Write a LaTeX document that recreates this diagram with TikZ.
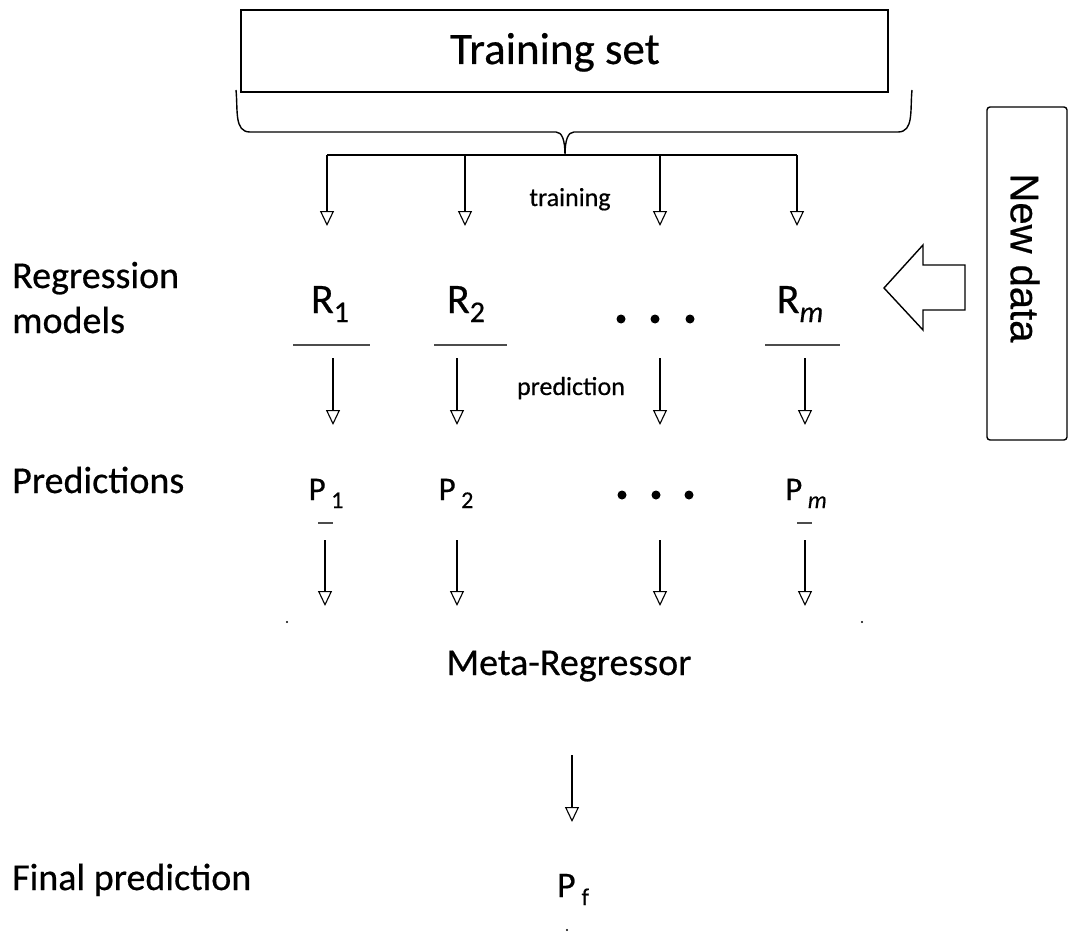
\documentclass[tikz,border=0pt]{standalone}
\usepackage{fontspec}
\setmainfont{Carlito}[FakeBold=0.5]
\newfontfamily\arialf{Liberation Sans}[FakeBold=0.5]
\usetikzlibrary{arrows.meta}
\newcommand\lowsub[3]{\raisebox{-#2pt}{\fontsize{#1}{#1}\selectfont #3}}
\begin{document}
\begin{tikzpicture}[x=1pt,y=-1pt,
  lbl/.style={anchor=base west, font=\fontsize{38}{44}\selectfont, inner sep=0pt, align=left},
  midtxt/.style={anchor=base, inner sep=0pt},
  arr/.style={line width=1.6pt, -{Triangle[open,length=15pt,width=14pt,line width=1.1pt]}},
  uline/.style={line width=1.1pt, gray!60!black},
  dotm/.style={fill=black, circle, inner sep=0pt, minimum size=9pt},
  box/.style={draw, line width=1.4pt}
]
\useasboundingbox (0,0) rectangle (1080,942);

% Training set box
\node[box, minimum width=647pt, minimum height=82pt, inner sep=0pt] (ts) at (564.5,51) {};
\node[midtxt, font=\fontsize{45}{50}\selectfont] (tstxt) at (555,64) {Training set};

% brace
\coordinate (bl) at (236,90);
\coordinate (br) at (912,90);
\coordinate (bc) at (565,155);
\draw[line width=1.4pt] (bl) .. controls (238,110) and (234,132) .. (250,132)
  -- (556,132) .. controls (562,132) and (565,140) .. (bc)
  .. controls (565,140) and (568,132) .. (574,132) -- (898,132)
  .. controls (914,132) and (910,110) .. (br);

% distribution bar
\coordinate (b1) at (327,155);
\coordinate (b2) at (465,155);
\coordinate (b3) at (660,155);
\coordinate (b4) at (797,155);
\draw[line width=1.6pt] (b1) -- (b4);
\coordinate (e1) at (327,226);
\coordinate (e2) at (465,226);
\coordinate (e3) at (660,226);
\coordinate (e4) at (797,226);
\foreach \i in {1,...,4} \draw[arr] (b\i) -- (e\i);
\node[midtxt, font=\fontsize{26}{30}\selectfont] (trn) at (570,206) {training};

% left labels
\node[lbl] (regm) at (12,333) {Regression\\[1pt]models};
\node[lbl] (preds) at (12,493) {Predictions};
\node[lbl] (finp) at (12,890) {Final prediction};

% regression models
\node[midtxt, font=\fontsize{42}{46}\selectfont] (r1) at (330,313) {R\lowsub{30}{9}{1}};
\node[midtxt, font=\fontsize{42}{46}\selectfont] (r2) at (466,313) {R\lowsub{30}{9}{2}};
\node[midtxt, font=\fontsize{42}{46}\selectfont] (rm) at (800,313) {R\lowsub{30}{9}{\itshape m}};
\node[dotm] (rd1) at (621,319) {};
\node[dotm] (rd2) at (655,319) {};
\node[dotm] (rd3) at (690,319) {};
\draw[uline] (293,345) -- (370,345);
\draw[uline] (434,345) -- (507,345);
\draw[uline] (765,345) -- (840,345);

% prediction arrows
\coordinate (s1) at (333,358);
\coordinate (s2) at (457,358);
\coordinate (s3) at (660,358);
\coordinate (s4) at (805,358);
\coordinate (f1) at (333,425);
\coordinate (f2) at (457,425);
\coordinate (f3) at (660,425);
\coordinate (f4) at (805,425);
\foreach \i in {1,...,4} \draw[arr] (s\i) -- (f\i);
\node[midtxt, font=\fontsize{26}{30}\selectfont] (prd) at (571,395) {prediction};

% predictions
\node[midtxt, font=\fontsize{33}{38}\selectfont] (p1) at (326,500) {P\,\lowsub{24}{8}{1}};
\node[midtxt, font=\fontsize{33}{38}\selectfont] (p2) at (456,500) {P\,\lowsub{24}{8}{2}};
\node[midtxt, font=\fontsize{33}{38}\selectfont] (pm) at (806,500) {P\,\lowsub{24}{8}{\itshape m}};
\node[dotm] (pd1) at (622,495) {};
\node[dotm] (pd2) at (656,495) {};
\node[dotm] (pd3) at (689,495) {};
\draw[uline] (318,523) -- (333,523);
\draw[uline] (797,523) -- (812,523);

% arrows to meta-regressor
\coordinate (u1) at (325,540);
\coordinate (u2) at (457,540);
\coordinate (u3) at (660,540);
\coordinate (u4) at (805,540);
\coordinate (v1) at (325,606);
\coordinate (v2) at (457,606);
\coordinate (v3) at (660,606);
\coordinate (v4) at (805,606);
\foreach \i in {1,...,4} \draw[arr] (u\i) -- (v\i);
\fill (287,622) circle (1.2pt);
\fill (862,622) circle (1.2pt);
\node[midtxt, font=\fontsize{38}{44}\selectfont] (meta) at (569,675) {Meta-Regressor};

% final arrow
\coordinate (ma) at (572,755);
\coordinate (mb) at (572,822);
\draw[arr] (ma) -- (mb);
\node[midtxt, font=\fontsize{36}{40}\selectfont] (pf) at (573,897) {P\,\lowsub{24}{8}{f}};
\fill (567,930) circle (1.2pt);

% New data box
\node[draw, line width=1.4pt, rounded corners=3pt, minimum width=80pt, minimum height=333pt, inner sep=0pt] (nd) at (1027,273.5) {};
\node[rotate=-90, font=\arialf\fontsize{40}{44}\selectfont, inner sep=0pt] (ndtxt) at (1025,258) {New data};

% hollow arrow
\draw[line width=1.4pt, line join=miter] (965,265) -- (923,265) -- (923,245) -- (884,288) -- (923,330) -- (923,310) -- (965,310) -- cycle;
\end{tikzpicture}
\end{document}
